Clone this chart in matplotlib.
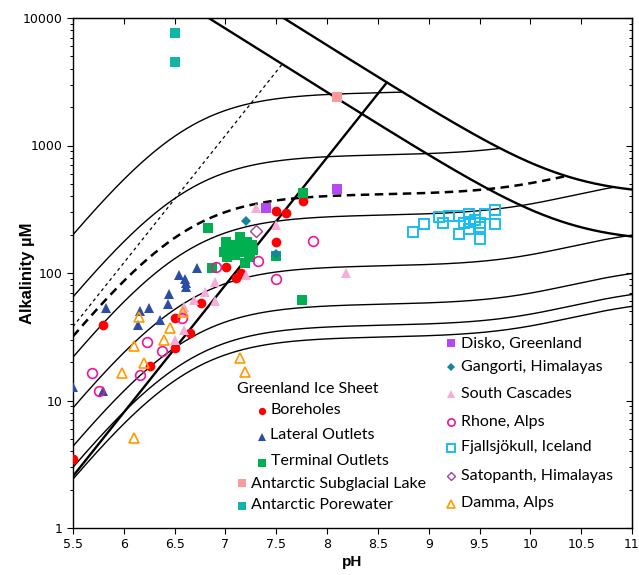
import numpy as np
import matplotlib
matplotlib.use('Agg')
import matplotlib.pyplot as plt
from matplotlib.ticker import FixedLocator, LogLocator, NullFormatter, FixedFormatter

# reference lines, values
dic_solid = [2600, 845, 285, 114, 57, 39, 31.5]   # uM, thin closed-system curves
dic_dashed = 415
pk1, pk2 = 6.58, 10.55
bold_start = 2.55        # alkalinity at pH 5.5, bold slope-1 line
dotted_start = 38        # alkalinity at pH 5.5, dotted slope-1 line
dotted_end_ph = 7.57
sat_pk2 = 10.65
sat_low, sat_high = 123.6, 288.6

# samples (pH, alkalinity uM)
boreholes_ph = [5.50, 5.80, 6.26, 6.50, 6.50, 6.65, 6.76, 7.01, 7.10, 7.15, 7.50, 7.50, 7.60, 7.76]
boreholes_alk = [3.5, 39, 18.7, 26, 44, 34, 58, 111, 91, 100, 176, 306, 297, 369]
lateral_ph = [5.50, 5.80, 5.82, 6.14, 6.16, 6.25, 6.36, 6.43, 6.44, 6.54, 6.60, 6.61, 6.61, 6.72]
lateral_alk = [12.8, 11.9, 53, 39, 50, 53, 43, 57, 69, 96, 89, 84, 78, 110]
terminal_ph = [6.83, 6.87, 7.50, 7.75, 7.76, 7.01, 7.01, 7.01, 7.02, 7.05, 7.08, 7.09, 7.14, 7.14,
               7.15, 7.16, 7.19, 7.21, 7.23, 7.26, 7.27, 7.06, 7.19, 7.24, 6.99]
terminal_alk = [224, 110, 136, 61, 422, 176, 161, 147, 134, 166, 156, 138, 193, 176,
                161, 147, 119, 176, 143, 166, 151, 143, 161, 134, 147]
subglacial_ph = [8.10]
subglacial_alk = [2415]
porewater_ph = [6.50, 6.50]
porewater_alk = [7680, 4540]
disko_ph = [7.40, 8.10]
disko_alk = [321, 456]
gangorti_ph = [7.20, 7.50]
gangorti_alk = [257, 141]
cascades_ph = [6.50, 6.59, 6.59, 6.59, 6.69, 6.80, 6.90, 6.90, 7.20, 7.30, 7.50, 8.19]
cascades_alk = [30, 36, 50, 54, 61, 71, 85, 60, 96, 321, 238, 100]
rhone_ph = [5.69, 5.76, 6.16, 6.23, 6.38, 6.57, 6.91, 7.32, 7.50, 7.86]
rhone_alk = [16.3, 11.9, 15.8, 29, 24.6, 44, 112, 124, 90, 179]
fjall_ph = [8.85, 8.95, 9.10, 9.14, 9.20, 9.30, 9.30, 9.35, 9.40, 9.40, 9.41, 9.46, 9.50, 9.50,
            9.50, 9.55, 9.65, 9.65]
fjall_alk = [211, 242, 273, 245, 280, 280, 202, 245, 290, 220, 252, 261, 248, 231,
             184, 290, 312, 242]
satopanth_ph = [7.30]
satopanth_alk = [213]
damma_ph = [5.98, 6.10, 6.10, 6.15, 6.20, 6.40, 6.45, 6.58, 7.14, 7.19]
damma_alk = [16.5, 5.1, 26.7, 45, 19.8, 30, 37, 49, 21.4, 16.6]

x_ticks = [5.5, 6, 6.5, 7, 7.5, 8, 8.5, 9, 9.5, 10, 10.5, 11]
x_tick_labels = ['5.5', '6', '6.5', '7', '7.5', '8', '8.5', '9', '9.5', '10', '10.5', '11']
y_ticks = [1, 10, 100, 1000, 10000]
y_tick_labels = ['1', '10', '100', '1000', '10000']


def closed_alk(dic, ph):
    h = 10.0 ** (-ph)
    k1 = 10.0 ** (-pk1)
    k2 = 10.0 ** (-pk2)
    denom = h * h + h * k1 + k1 * k2
    return dic * (h * k1 + 2 * k1 * k2) / denom


def sat_alk(a, ph):
    return a * np.sqrt(10.0 ** (sat_pk2 - ph) + 2)


fig = plt.figure(figsize=(6.39, 5.75), dpi=100)
ax = fig.add_axes([73 / 639, 47 / 575, 559 / 639, 510 / 575])
ax.set_yscale('log')
ax.set_xlim(5.5, 11)
ax.set_ylim(1, 10000)

ph = np.linspace(5.5, 11, 2000)
limit = sat_alk(sat_high, ph)

for d in dic_solid:
    y = closed_alk(d, ph)
    ax.plot(ph, np.where(y <= limit, y, np.nan), color='black', lw=1.0, zorder=2)

y = closed_alk(dic_dashed, ph)
ax.plot(ph, np.where(y <= limit, y, np.nan), color='black', lw=1.8,
        ls=(0, (3.4, 2.2)), zorder=2)

y = bold_start * 10 ** (ph - 5.5)
ax.plot(ph, np.where(y <= limit, y, np.nan), color='black', lw=1.7, zorder=2)

phd = ph[ph <= dotted_end_ph]
ax.plot(phd, dotted_start * 10 ** (phd - 5.5), color='black', lw=0.9,
        ls=(0, (2.6, 2.6)), zorder=2)

ax.plot(ph, sat_alk(sat_low, ph), color='black', lw=1.7, zorder=2)
ax.plot(ph, limit, color='black', lw=1.7, zorder=2)

# sample series
styles = [
    (boreholes_ph, boreholes_alk, dict(marker='o', ms=7, mfc='#FF0000', mec='#FF0000', mew=0)),
    (lateral_ph, lateral_alk, dict(marker='^', ms=7, mfc='#2B4DA6', mec='#2B4DA6', mew=0)),
    (terminal_ph, terminal_alk, dict(marker='s', ms=7.5, mfc='#00B050', mec='#00B050', mew=0)),
    (subglacial_ph, subglacial_alk, dict(marker='s', ms=7.5, mfc='#FF9999', mec='#FF9999', mew=0)),
    (porewater_ph, porewater_alk, dict(marker='s', ms=7.5, mfc='#10B5A8', mec='#10B5A8', mew=0)),
    (disko_ph, disko_alk, dict(marker='s', ms=7.5, mfc='#B448F2', mec='#B448F2', mew=0)),
    (gangorti_ph, gangorti_alk, dict(marker='D', ms=5.5, mfc='#17849E', mec='#17849E', mew=0)),
    (cascades_ph, cascades_alk, dict(marker='^', ms=7, mfc='#F7ADDB', mec='#F7ADDB', mew=0)),
    (rhone_ph, rhone_alk, dict(marker='o', ms=7, mfc='none', mec='#F0169B', mew=1.2)),
    (fjall_ph, fjall_alk, dict(marker='s', ms=7, mfc='none', mec='#18BEF0', mew=1.4)),
    (satopanth_ph, satopanth_alk, dict(marker='D', ms=6, mfc='none', mec='#A040A0', mew=1.0)),
    (damma_ph, damma_alk, dict(marker='^', ms=7.5, mfc='none', mec='#FF9A00', mew=1.2)),
]
for xs, ys, st in styles:
    ax.plot(xs, ys, ls='none', zorder=3, **st)

# axes cosmetics
for s in ax.spines.values():
    s.set_linewidth(1.0)
ax.xaxis.set_major_locator(FixedLocator(x_ticks))
ax.xaxis.set_major_formatter(FixedFormatter(x_tick_labels))
ax.yaxis.set_major_locator(FixedLocator(y_ticks))
ax.yaxis.set_major_formatter(FixedFormatter(y_tick_labels))
ax.yaxis.set_minor_locator(LogLocator(base=10, subs=np.arange(2, 10)))
ax.yaxis.set_minor_formatter(NullFormatter())
ax.tick_params(axis='both', which='major', labelsize=9, length=4, width=0.8, direction='out')
ax.tick_params(axis='y', which='minor', length=2.5, width=0.7, direction='out')

top = ax.secondary_xaxis('top')
top.xaxis.set_major_locator(FixedLocator(x_ticks))
top.tick_params(direction='in', length=4, width=0.8, labeltop=False)
right = ax.secondary_yaxis('right')
right.yaxis.set_major_locator(FixedLocator(y_ticks))
right.yaxis.set_minor_locator(LogLocator(base=10, subs=np.arange(2, 10)))
right.tick_params(which='major', direction='in', length=4, width=0.8, labelright=False)
right.tick_params(which='minor', direction='in', length=2.5, width=0.7, labelright=False)

ax.set_xlabel('pH', fontfamily='Liberation Sans', fontweight='bold', fontsize=11)
ax.set_ylabel('Alkalinity µM', fontfamily='Liberation Sans', fontweight='bold', fontsize=12)
ax.xaxis.set_label_coords(0.5, -0.052)
ax.yaxis.set_label_coords(-0.068, 0.5)


# hand-built legend, positions in figure pixels of the reference
def axf(px, py):
    return ((px - 73) / 559, (528 - py) / 510)


leg_font = dict(fontfamily='Lato', fontsize=11.5, va='center', ha='left',
                transform=ax.transAxes)
ax.text(*axf(237, 389), 'Greenland Ice Sheet', **leg_font)
legend_items = [
    (0, 'Boreholes', (262, 411), (271, 410)),
    (1, 'Lateral Outlets', (262, 437), (270, 435)),
    (2, 'Terminal Outlets', (262, 463), (271, 461)),
    (3, 'Antarctic Subglacial Lake', (242, 483), (251, 484)),
    (4, 'Antarctic Porewater', (242, 506), (251, 505)),
    (5, 'Disko, Greenland', (451, 343), (461, 344)),
    (6, 'Gangorti, Himalayas', (451, 367), (461, 367)),
    (7, 'South Cascades', (451, 394), (461, 394)),
    (8, 'Rhone, Alps', (451, 422), (461, 422)),
    (9, 'Fjallsjökull, Iceland', (451, 448), (461, 447)),
    (10, 'Satopanth, Himalayas', (451, 476), (461, 476)),
    (11, 'Damma, Alps', (451, 504), (461, 503)),
]
for idx, label, mpos, tpos in legend_items:
    st = dict(styles[idx][2])
    st['ms'] = st['ms'] * 0.75
    ax.plot(*axf(*mpos), ls='none', transform=ax.transAxes, clip_on=False, zorder=4, **st)
    ax.text(*axf(*tpos), label, **leg_font)

fig.savefig('out.png', dpi=100)
